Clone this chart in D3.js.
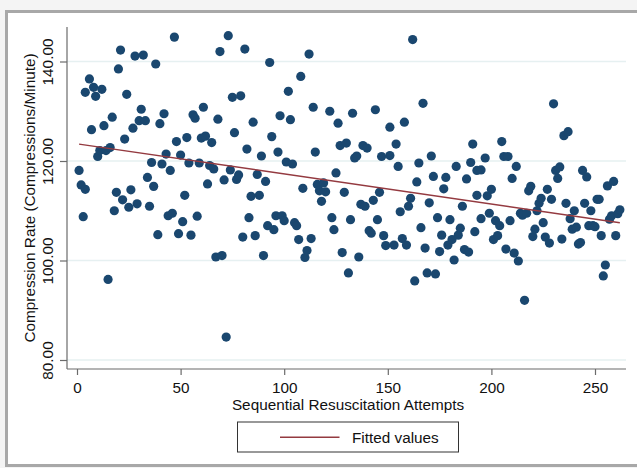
<!DOCTYPE html>
<html>
<head>
<meta charset="utf-8">
<script src="https://cdnjs.cloudflare.com/ajax/libs/d3/7.8.5/d3.min.js"></script>
<style>
  body { margin: 0; background: #f4f4f4; }
  text { font-family: "Liberation Sans", Arial, sans-serif; fill: #111; }
</style>
</head>
<body>
<div id="chart"></div>
<script>
// Define SVG area dimensions
var svgWidth = 637;
var svgHeight = 468;

// attempt number and compression rate
var attempts = [1,2,3,4,4,6,7,8,9,10,11,12,13,15,14,16,17,18,19,20,
  21,22,23,24,25,26,27,28,29,30,31,32,33,34,35,36,37,38,39,40,
  41,42,43,44,45,46,47,48,49,50,51,52,53,54,55,56,57,58,59,60,
  61,62,63,64,65,66,67,68,69,70,71,72,73,74,75,76,77,78,79,80,
  81,82,83,84,85,86,87,88,89,90,91,92,93,94,95,96,97,98,99,100,
  101,102,103,104,105,106,107,108,109,110,111,112,113,114,115,116,117,118,119,120,
  122,123,124,125,126,127,128,129,130,131,132,133,134,135,136,137,138,139,140,141,
  142,143,144,145,146,147,148,149,151,151,153,154,155,156,157,158,159,160,161,162,
  163,164,165,166,167,168,169,170,171,172,173,174,175,176,177,178,179,180,181,182,
  183,184,185,186,187,188,189,190,191,192,193,193,195,195,197,198,199,200,201,202,
  203,204,205,206,207,208,209,210,211,212,213,214,215,216,217,218,219,220,221,222,
  223,224,225,226,227,228,229,230,231,232,233,234,235,236,237,238,239,240,241,242,
  243,244,245,246,247,248,249,250,251,252,253,254,255,256,257,258,259,260,261,262];

var rates = [118.1,115.2,108.8,114.3,133.8,136.5,126.3,134.8,133.0,120.9,122.1,134.4,127.1,96.2,122.1,122.7,128.8,110.0,113.7,138.5,
  142.3,112.2,124.4,133.4,110.7,114.2,126.6,141.1,111.4,128.1,130.4,141.3,128.1,116.7,110.9,119.7,114.9,139.5,105.2,127.5,
  119.4,129.5,121.4,109.0,118.1,109.5,144.9,123.9,105.4,121.2,107.8,113.1,124.7,119.6,105.1,129.3,128.6,108.9,119.6,124.6,
  130.8,125.0,115.4,119.1,123.7,118.4,100.7,128.4,142.0,101.0,116.2,84.6,145.2,118.2,132.8,125.7,116.3,117.2,133.1,104.7,
  142.5,122.4,108.6,112.9,127.8,105.0,117.3,113.1,121.0,101.0,115.9,107.0,139.8,124.9,106.2,109.0,121.8,129.1,109.0,108.0,
  119.8,134.0,128.3,119.4,107.6,107.0,104.2,137.0,114.5,100.6,102.0,141.5,104.4,130.8,121.8,115.3,114.0,111.9,115.6,113.8,
  130.0,108.6,106.2,117.6,127.6,123.1,101.6,113.7,123.6,97.5,108.2,129.6,120.6,121.0,100.7,111.3,123.1,110.9,122.6,106.0,
  105.5,112.1,130.3,108.2,113.7,120.9,105.0,103.0,121.1,126.8,103.1,123.4,118.9,109.8,104.4,127.8,103.1,110.9,112.5,144.4,
  95.9,115.8,119.6,106.6,131.6,102.5,97.5,111.6,121.0,116.9,97.3,108.6,101.8,105.1,114.4,116.7,103.1,108.2,104.2,100.1,
  118.9,105.1,106.5,110.9,102.2,116.4,101.7,119.7,123.4,105.8,113.1,118.1,108.4,118.2,120.6,113.0,109.5,114.3,104.2,108.0,
  105.0,107.0,123.9,120.9,102.3,120.9,108.0,116.5,101.5,118.9,99.9,109.5,109.1,92.0,109.5,114.0,114.9,104.8,106.3,110.0,
  111.5,112.5,107.6,104.7,114.3,103.5,112.3,131.5,118.1,116.5,118.8,104.3,125.1,111.5,125.9,108.4,106.3,110.0,106.7,103.3,
  103.6,118.1,111.5,116.8,107.0,110.0,107.0,106.8,112.3,112.3,105.0,96.9,99.1,115.0,108.3,109.0,115.9,105.0,109.4,110.2];

// fitted line end points
var fitAttempts = [1, 262];
var fitRates = [123.4, 107.6];

var xTicks = [0, 50, 100, 150, 200, 250];
var yTicks = [80, 100, 120, 140];

var data = attempts.map(function(a, i) { return {x: a, y: rates[i]}; });
var fitData = fitAttempts.map(function(a, i) { return {x: a, y: fitRates[i]}; });

var svg = d3.select("#chart")
  .append("svg")
  .attr("width", svgWidth)
  .attr("height", svgHeight);

// outer graph frame
svg.append("rect")
  .attr("x", 6.5)
  .attr("y", 11.5)
  .attr("width", 700)
  .attr("height", 454)
  .attr("fill", "#ffffff")
  .attr("stroke", "#a8a8a8")
  .attr("stroke-width", 3);

var xLinearScale = d3.scaleLinear().domain([0, 250]).range([77, 595]);
var yLinearScale = d3.scaleLinear().domain([80, 140]).range([360, 61.5]);

var axisX = 67, axisY = 369, plotRight = 626;

// gridlines
svg.append("g")
  .selectAll("line")
  .data(yTicks)
  .enter()
  .append("line")
  .attr("x1", axisX)
  .attr("x2", plotRight)
  .attr("y1", d => yLinearScale(d))
  .attr("y2", d => yLinearScale(d))
  .attr("stroke", "#e6f0f1")
  .attr("stroke-width", 1.5);

// y axis
var leftAxis = d3.axisLeft(yLinearScale)
  .tickValues(yTicks)
  .tickSize(7)
  .tickFormat(d3.format(".2f"));

var yAxis = svg.append("g")
  .attr("transform", `translate(${axisX}, 0)`)
  .call(leftAxis);

yAxis.select(".domain").remove();
yAxis.append("line")
  .attr("y1", 27).attr("y2", axisY)
  .attr("stroke", "#6b6b6b").attr("stroke-width", 1.2);
yAxis.selectAll(".tick line").attr("stroke", "#6b6b6b").attr("stroke-width", 1.2);
yAxis.selectAll(".tick text")
  .attr("x", null).attr("dy", null)
  .attr("transform", "translate(-14, 0) rotate(-90)")
  .attr("text-anchor", "middle")
  .attr("font-size", 15.3)
  .attr("font-family", "Liberation Sans, Arial, sans-serif")
  .attr("fill", "#111");

// x axis
var bottomAxis = d3.axisBottom(xLinearScale)
  .tickValues(xTicks)
  .tickSize(6);

var xAxis = svg.append("g")
  .attr("transform", `translate(0, ${axisY})`)
  .call(bottomAxis);

xAxis.select(".domain").remove();
xAxis.append("line")
  .attr("x1", axisX).attr("x2", plotRight)
  .attr("stroke", "#6b6b6b").attr("stroke-width", 1.2);
xAxis.selectAll(".tick line").attr("stroke", "#6b6b6b").attr("stroke-width", 1.2);
xAxis.selectAll(".tick text")
  .attr("y", 23.5).attr("dy", null)
  .attr("font-size", 15.3)
  .attr("font-family", "Liberation Sans, Arial, sans-serif")
  .attr("fill", "#111");

// points
svg.append("g")
  .selectAll("circle")
  .data(data)
  .enter()
  .append("circle")
  .attr("cx", d => xLinearScale(d.x))
  .attr("cy", d => yLinearScale(d.y))
  .attr("r", 4.6)
  .attr("fill", "#1a476f");

// fitted values line
var line = d3.line()
  .x(d => xLinearScale(d.x))
  .y(d => yLinearScale(d.y));

svg.append("path")
  .datum(fitData)
  .attr("d", line)
  .attr("fill", "none")
  .attr("stroke", "#943a40")
  .attr("stroke-width", 1.4);

// axis titles
svg.append("text")
  .attr("transform", "translate(34.5, 198) rotate(-90)")
  .attr("text-anchor", "middle")
  .attr("font-size", 15.3)
  .text("Compression Rate (Compressions/Minute)");

svg.append("text")
  .attr("x", 348)
  .attr("y", 409.5)
  .attr("text-anchor", "middle")
  .attr("font-size", 15.3)
  .text("Sequential Resuscitation Attempts");

// legend
var legend = svg.append("g");
legend.append("rect")
  .attr("x", 237.5)
  .attr("y", 422)
  .attr("width", 221)
  .attr("height", 30)
  .attr("fill", "#ffffff")
  .attr("stroke", "#333")
  .attr("stroke-width", 1);
legend.append("line")
  .attr("x1", 280).attr("x2", 339.5)
  .attr("y1", 437.3).attr("y2", 437.3)
  .attr("stroke", "#943a40")
  .attr("stroke-width", 1.4);
legend.append("text")
  .attr("x", 352)
  .attr("y", 443)
  .attr("font-size", 15.3)
  .text("Fitted values");
</script>
</body>
</html>
